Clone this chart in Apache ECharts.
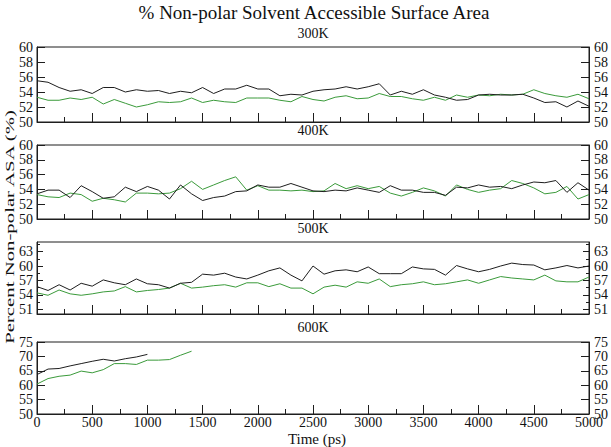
<!DOCTYPE html>
<html>
<head>
<meta charset="utf-8">
<script src="https://cdn.jsdelivr.net/npm/echarts@6/dist/echarts.min.js"></script>
<style>
html,body{margin:0;padding:0;background:#fff;}
#chart{width:611px;height:447px;}
</style>
</head>
<body>
<div id="chart"></div>
<script>
const times = [0,100,200,300,400,500,600,700,800,900,1000,1100,1200,1300,1400,1500,1600,1700,1800,1900,2000,2100,2200,2300,2400,2500,2600,2700,2800,2900,3000,3100,3200,3300,3400,3500,3600,3700,3800,3900,4000,4100,4200,4300,4400,4500,4600,4700,4800,4900,5000];

const panelLabels = ['300K','400K','500K','600K'];
const xTickLabels = [0,500,1000,1500,2000,2500,3000,3500,4000,4500,5000];

const p300Black = [55.5,55.3,54.6,54.1,54.3,53.8,54.6,54.6,54.0,54.3,54.1,54.2,53.8,54.1,53.9,54.6,53.8,54.4,54.4,54.9,54.4,54.4,53.5,53.7,53.6,54.1,54.3,54.4,54.7,54.4,54.7,55.1,53.6,54.1,53.7,54.3,53.6,53.3,52.9,53.0,53.6,53.7,53.6,53.6,53.7,53.2,52.6,52.7,52.0,52.8,52.1];
const p300Green = [53.3,52.9,52.9,53.2,53.0,53.3,52.4,53.0,52.5,52.0,52.3,52.7,52.6,52.7,53.2,52.6,52.9,52.7,52.6,53.2,53.2,53.2,52.9,52.7,53.4,53.0,52.8,53.3,53.5,53.1,53.2,53.8,53.4,53.4,53.1,52.9,53.3,52.9,53.6,53.3,53.6,53.5,53.7,53.6,53.7,54.3,53.8,53.5,53.3,53.7,53.1];

const p400Black = [53.4,53.9,53.9,52.9,54.5,53.7,52.8,53.0,54.3,53.7,54.4,53.9,52.7,54.6,53.4,52.5,52.9,53.1,53.7,53.8,54.6,54.3,54.3,54.8,54.3,53.8,53.7,53.9,53.8,54.2,53.9,53.6,54.5,53.9,53.9,53.6,53.6,53.2,54.3,54.2,54.6,54.3,54.4,54.1,54.6,55.0,54.9,55.2,53.6,54.9,53.9];
const p400Green = [53.3,53.0,52.9,53.5,53.3,52.4,52.8,52.6,52.3,53.5,53.5,53.4,53.5,54.1,55.1,54.0,54.6,55.2,55.7,53.9,54.5,53.9,53.9,53.8,53.9,53.7,53.8,54.8,54.1,54.5,54.1,54.4,53.5,53.1,53.6,54.2,53.8,53.1,54.6,54.0,53.6,53.9,54.1,55.2,54.8,54.2,53.4,53.6,54.4,52.7,53.3];

const p500Black = [55.7,54.9,56.1,55.0,56.4,55.8,57.1,56.5,56.1,57.3,56.3,56.1,55.4,56.4,56.6,58.3,58.1,58.5,57.7,57.3,58.1,59.0,59.6,58.1,56.9,60.0,58.3,59.0,59.2,58.8,59.8,58.4,58.4,58.4,59.8,59.4,59.3,58.1,60.1,59.4,58.8,59.3,60.0,60.6,60.3,60.2,59.2,59.6,60.1,59.6,60.0];
const p500Green = [54.4,53.9,55.0,54.2,53.9,54.2,54.6,54.8,55.7,54.6,54.9,55.1,55.4,56.4,55.4,55.6,55.9,56.1,55.6,56.5,56.5,55.7,56.3,55.4,55.4,54.2,55.6,56.0,55.6,56.7,56.4,57.3,55.7,56.1,56.3,56.7,56.1,56.3,56.7,57.1,56.4,57.1,57.8,57.5,57.3,57.1,58.1,56.9,56.7,56.7,57.7];

const p600Black = [63.7,65.6,65.8,66.7,67.5,68.3,69.0,68.4,69.2,69.8,70.7];
const p600Green = [60.4,62.3,63.1,63.5,64.9,64.3,65.4,67.5,67.5,67.2,68.7,68.7,68.9,70.4,71.8];

const yTicks300 = [50,52,54,56,58,60];
const yTicks400 = [50,52,54,56,58,60];
const yTicks500 = [51,54,57,60,63];
const yMinor500 = [52.5,55.5,58.5,61.5,64.5];
const yTicks600 = [50,55,60,65,70,75];

const titleText = '% Non-polar Solvent Accessible Surface Area';
const yName = 'Percent Non-polar ASA (%)';
const xName = 'Time (ps)';

// ---------- layout / styling ----------
const FONT = 'Liberation Serif';
const BLACK = '#1e1e1e';
const GREEN = '#3a9a3a';
const gridTops = [47, 145, 242, 342];
const gridHeights = [75, 74, 72, 72];
const ranges = [[50,60],[50,60],[50,65],[50,75]];
const majors = [yTicks300, yTicks400, yTicks500, yTicks600];
const minors = [null, null, yMinor500, null];
const blacks = [p300Black, p400Black, p500Black, p600Black];
const greens = [p300Green, p400Green, p500Green, p600Green];

const grids = [], xAxes = [], yAxes = [], series = [], graphics = [];
const labelStyle = {fontFamily: FONT, fontSize: 14, color: '#111'};
const plain = v => String(v);

for (let i = 0; i < 4; i++) {
  grids.push({left: 37, right: 20, top: gridTops[i], height: gridHeights[i],
    show: true, borderColor: BLACK, borderWidth: 1, backgroundColor: 'transparent'});
  xAxes.push({
    type: 'value', gridIndex: i, min: 0, max: 5000, interval: 500,
    axisLine: {show: true, lineStyle: {color: BLACK, width: 1}},
    axisTick: {show: true, inside: true, length: 9, lineStyle: {color: BLACK}},
    minorTick: {show: true, splitNumber: 2, length: 5, lineStyle: {color: BLACK}},
    splitLine: {show: false},
    axisLabel: Object.assign({show: i === 3, margin: 1, customValues: xTickLabels, formatter: plain}, labelStyle)
  });
  const [mn, mx] = ranges[i];
  const leftIdx = yAxes.length;
  ['left','right'].forEach(pos => {
    yAxes.push({
      type: 'value', gridIndex: i, position: pos, min: mn, max: mx,
      axisLine: {show: true, lineStyle: {color: BLACK}},
      axisTick: {show: true, inside: true, length: minors[i] ? 6 : 8, customValues: majors[i], lineStyle: {color: BLACK}},
      splitLine: {show: false},
      axisLabel: Object.assign({margin: pos === 'left' ? 4 : 5, customValues: majors[i], formatter: plain}, labelStyle)
    });
    if (minors[i]) {
      yAxes.push({
        type: 'value', gridIndex: i, position: pos, min: mn, max: mx,
        axisLine: {show: false},
        axisTick: {show: true, inside: true, length: 3, customValues: minors[i], lineStyle: {color: BLACK}},
        splitLine: {show: false},
        axisLabel: {show: false}
      });
    }
  });
  series.push({
    type: 'line', xAxisIndex: i, yAxisIndex: leftIdx, symbol: 'none', animation: false,
    lineStyle: {color: GREEN, width: 1}, itemStyle: {color: GREEN},
    data: greens[i].map((v, k) => [times[k], v])
  });
  series.push({
    type: 'line', xAxisIndex: i, yAxisIndex: leftIdx, symbol: 'none', animation: false,
    lineStyle: {color: BLACK, width: 1}, itemStyle: {color: BLACK},
    data: blacks[i].map((v, k) => [times[k], v])
  });
}

const subTops = [26, 123, 221, 320];
graphics.push({type: 'text', x: 314, y: 3, style: {text: titleText, font: '19px "Liberation Serif"', fill: '#111', textAlign: 'center', textVerticalAlign: 'top'}});
for (let i = 0; i < 4; i++) {
  graphics.push({type: 'text', x: 313, y: subTops[i], style: {text: panelLabels[i], font: '14px "Liberation Serif"', fill: '#111', textAlign: 'center', textVerticalAlign: 'top'}});
}
graphics.push({type: 'text', x: 10, y: 227, rotation: Math.PI / 2, scaleX: 1.6,
  style: {text: yName, font: '13px "Liberation Serif"', fill: '#111', textAlign: 'center', textVerticalAlign: 'middle'}});
graphics.push({type: 'text', x: 317, y: 439, style: {text: xName, font: '15px "Liberation Serif"', fill: '#111', textAlign: 'center', textVerticalAlign: 'middle'}});

const chart = echarts.init(document.getElementById('chart'), null, {renderer: 'svg'});
chart.setOption({
  animation: false,
  backgroundColor: '#fff',
  grid: grids, xAxis: xAxes, yAxis: yAxes, series: series,
  graphic: graphics
});
</script>
</body>
</html>
